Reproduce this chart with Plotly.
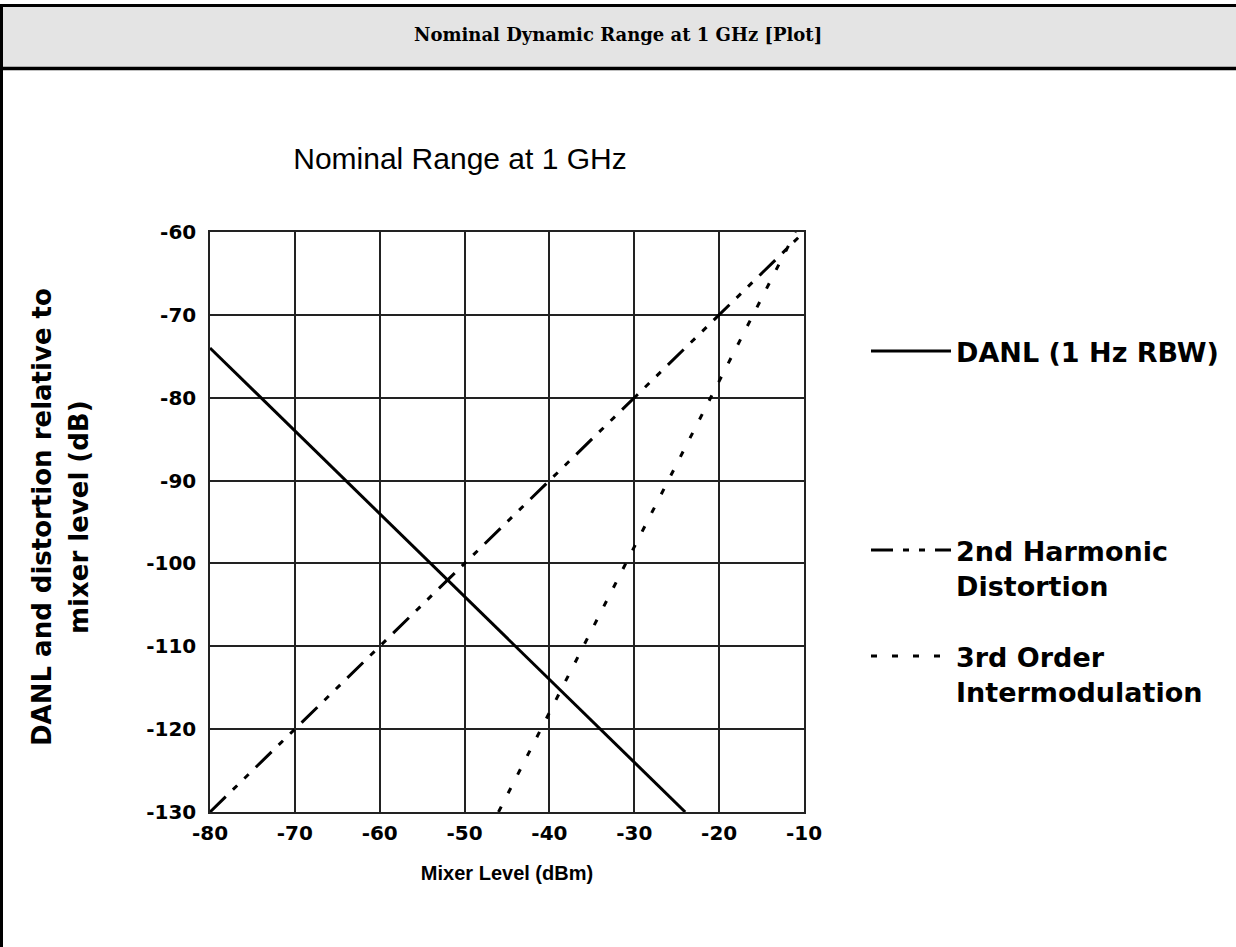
import plotly.graph_objects as go

# data (dBm mixer level vs dB relative to mixer level)
danl_x = [-80, -24]
danl_y = [-74, -130]
shd_x = [-80, -10]
shd_y = [-130, -60]
toi_x = [-46, -11]
toi_y = [-130, -60]

x_ticks = [-80, -70, -60, -50, -40, -30, -20, -10]
y_ticks = [-60, -70, -80, -90, -100, -110, -120, -130]

W, H = 1236, 947
L, R, T, B = 210, 804, 232, 812   # plot area in pixels


def px(x):
    return (x - L) / (R - L)


def py(y):
    return (B - y) / (B - T)


fig = go.Figure()
fig.add_trace(go.Scatter(x=danl_x, y=danl_y, mode='lines', name='DANL (1 Hz RBW)',
                         line=dict(color='black', width=3), legend='legend'))
fig.add_trace(go.Scatter(x=shd_x, y=shd_y, mode='lines', name='2nd Harmonic<br>Distortion',
                         line=dict(color='black', width=3, dash='22px,10px,6px,10px,6px,10px'),
                         legend='legend2'))
fig.add_trace(go.Scatter(x=toi_x, y=toi_y, mode='lines', name='3rd Order<br>Intermodulation',
                         line=dict(color='black', width=3, dash='6px,15px'), legend='legend3'))

tick_font = dict(family='DejaVu Sans', size=20, color='black', weight='bold')
xtitle_font = dict(family='Liberation Sans, Arial', size=20, color='black', weight='bold')
ytitle_font = dict(family='DejaVu Sans', size=26, color='black', weight='bold')
leg_font = dict(family='DejaVu Sans', size=27, color='black', weight='bold')

fig.update_xaxes(range=[-80, -10], tickvals=x_ticks, ticktext=[str(v) for v in x_ticks], ticks='',
                 showgrid=True, gridcolor='#222', gridwidth=1.5, showline=True, linecolor='#222',
                 linewidth=1.5, mirror=True, zeroline=False, tickfont=tick_font, ticklabelstandoff=2,
                 title=dict(text='Mixer Level (dBm)', font=xtitle_font, standoff=22))
fig.update_yaxes(range=[-130, -60], tickvals=y_ticks, ticktext=[str(v) for v in y_ticks], ticks='',
                 showgrid=True, gridcolor='#222', gridwidth=1.5, showline=True, linecolor='#222',
                 linewidth=1.5, mirror=True, zeroline=False, tickfont=tick_font, ticklabelstandoff=8)

# y title as two separately placed lines (wider line gap than a single text block gives)
fig.add_annotation(text='DANL and distortion relative to', xref='paper', yref='paper',
                   x=px(42), y=py(517), textangle=-90, showarrow=False,
                   xanchor='center', yanchor='middle', font=ytitle_font)
fig.add_annotation(text='mixer level (dB)', xref='paper', yref='paper',
                   x=px(79), y=py(517), textangle=-90, showarrow=False,
                   xanchor='center', yanchor='middle', font=ytitle_font)

leg_common = dict(bgcolor='rgba(0,0,0,0)', borderwidth=0, font=leg_font, itemwidth=80,
                  xanchor='left', yanchor='top', valign='top', itemclick=False)
fig.update_layout(
    width=W, height=H,
    margin=dict(l=L, r=W - R, t=T, b=H - B),
    paper_bgcolor='white', plot_bgcolor='white',
    title=dict(text='Nominal Range at 1 GHz', x=px(460), xref='paper', xanchor='center',
               y=1 - 158 / H, yref='container', yanchor='middle',
               font=dict(family='Liberation Sans, Arial', size=30, color='black')),
    showlegend=True,
    legend=dict(x=px(866), y=py(327), **leg_common),
    legend2=dict(x=px(866), y=py(526), **leg_common),
    legend3=dict(x=px(866), y=py(632), **leg_common),
)

# page frame and header band
fig.add_shape(type='rect', xref='paper', yref='paper', x0=px(0), x1=px(W), y0=py(6), y1=py(68),
              fillcolor='#e4e4e4', line=dict(width=0), layer='below')
fig.add_shape(type='line', xref='paper', yref='paper', x0=px(0), x1=px(W), y0=py(5.5), y1=py(5.5),
              line=dict(color='black', width=3))
fig.add_shape(type='line', xref='paper', yref='paper', x0=px(0), x1=px(W), y0=py(68.5), y1=py(68.5),
              line=dict(color='black', width=3.5))
fig.add_shape(type='line', xref='paper', yref='paper', x0=px(1.5), x1=px(1.5), y0=py(4), y1=py(H + 5),
              line=dict(color='black', width=3))
fig.add_annotation(text='<b>Nominal Dynamic Range at 1 GHz [Plot]</b>', xref='paper', yref='paper',
                   x=px(W / 2), y=py(34), showarrow=False, xanchor='center', yanchor='middle',
                   font=dict(family='DejaVu Serif', size=18, color='black'))

# the page is shown edge to edge, so drop the browser's default body margin
fig.write_html('out.html', config={'displayModeBar': False},
               post_script="document.body.style.margin = '0';")
